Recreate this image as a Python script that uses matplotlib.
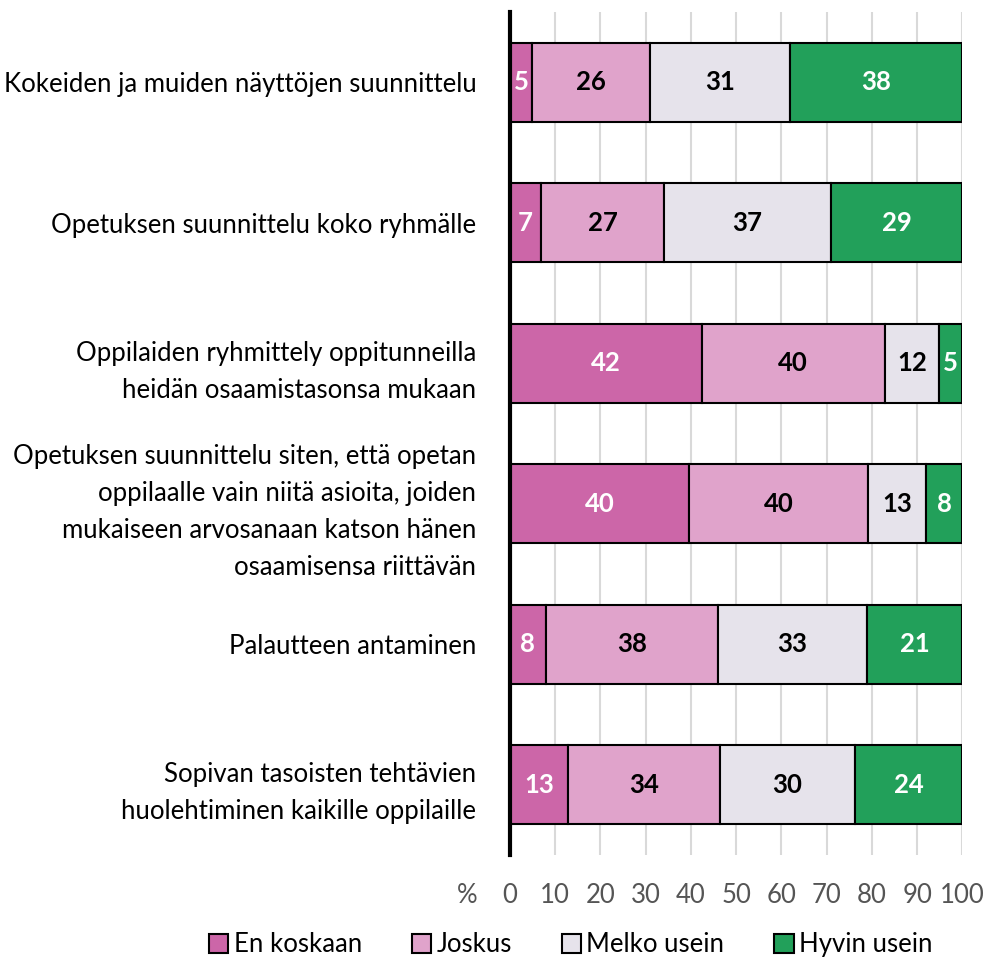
import numpy as np
import matplotlib.pyplot as plt

plt.rcParams['font.family'] = ['Lato', 'DejaVu Sans']

categories = [
    "Kokeiden ja muiden näyttöjen suunnittelu",
    "Opetuksen suunnittelu koko ryhmälle",
    "Oppilaiden ryhmittely oppitunneilla\nheidän osaamistasonsa mukaan",
    "Opetuksen suunnittelu siten, että opetan\noppilaalle vain niitä asioita, joiden\nmukaiseen arvosanaan katson hänen\nosaamisensa riittävän",
    "Palautteen antaminen",
    "Sopivan tasoisten tehtävien\nhuolehtiminen kaikille oppilaille",
]
series = ["En koskaan", "Joskus", "Melko usein", "Hyvin usein"]
en_koskaan = [5, 7, 42, 40, 8, 13]
joskus = [26, 27, 40, 40, 38, 34]
melko_usein = [31, 37, 12, 13, 33, 30]
hyvin_usein = [38, 29, 5, 8, 21, 24]
colors = ["#cc66a8", "#e0a3cb", "#e6e3eb", "#22a05a"]
text_colors = ["white", "black", "black", "white"]
xticks = list(range(0, 101, 10))

values = np.array([en_koskaan, joskus, melko_usein, hyvin_usein], dtype=float)
widths = values / values.sum(axis=0) * 100  # rounded shares drawn to a full 100 %

fs = 18.5
fig = plt.figure(figsize=(9.84, 9.59), dpi=100)
ax = fig.add_axes([0.518, 0.1084, 0.460, 0.8791])

y = np.arange(len(categories))
left = np.zeros(len(categories))
for i, name in enumerate(series):
    bars = ax.barh(y, widths[i], left=left, height=0.56, color=colors[i],
                   edgecolor="black", linewidth=1.5, label=name, zorder=3)
    for j, b in enumerate(bars):
        ax.text(left[j] + widths[i][j] / 2, y[j], str(int(values[i][j])),
                ha="center", va="center", fontsize=fs, fontweight="bold",
                color=text_colors[i], zorder=4)
    left += widths[i]

ax.set_xlim(0, 100)
ax.set_ylim(len(categories) - 0.5, -0.5)
ax.set_xticks(xticks)
ax.set_xticklabels([str(t) for t in xticks])
ax.set_yticks(y)
ax.set_yticklabels(categories, fontsize=fs, linespacing=1.6)
ax.tick_params(axis="y", length=0, pad=24)
ax.tick_params(axis="x", length=0, pad=20, labelsize=fs, labelcolor="#555555")
ax.grid(axis="x", color="#d9d9d9", linewidth=1.5, zorder=0)
for s in ["top", "right", "bottom"]:
    ax.spines[s].set_visible(False)
ax.spines["left"].set_linewidth(3)
ax.spines["left"].set_zorder(5)

ax.text(-9.5, -0.048, "%", transform=ax.get_xaxis_transform(), ha="center",
        va="center", fontsize=fs, color="#555555")

fig.legend(loc="center", bbox_to_anchor=(0.58, 0.015), ncol=4, frameon=False,
           fontsize=fs, handlelength=0.75, handleheight=0.75, handletextpad=0.2,
           columnspacing=1.95, borderaxespad=0)

fig.savefig("out.png", dpi=100)
